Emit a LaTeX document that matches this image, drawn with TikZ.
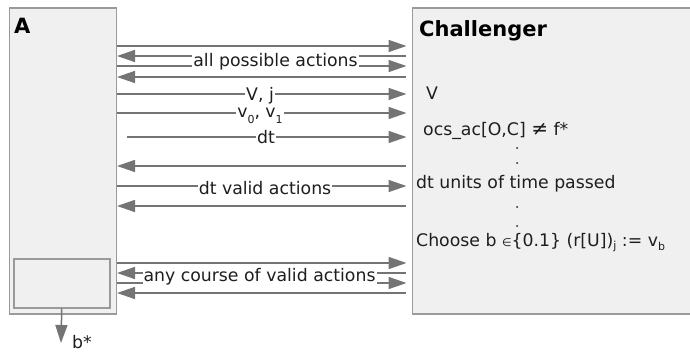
\documentclass[tikz,border=0pt]{standalone}
\usepackage{fontspec}
\setmainfont{DejaVu Sans}
\usetikzlibrary{arrows.meta}
\definecolor{boxfill}{HTML}{F0F0F0}
\definecolor{boxline}{HTML}{9A9A9A}
\definecolor{arrowgray}{HTML}{747474}
\definecolor{ink}{HTML}{1E1E1E}
% small lowered index
\newcommand\lowidx[2][5pt]{\raisebox{-#1}{\fontsize{11}{11}\selectfont #2}}
\begin{document}
\begin{tikzpicture}[x=1pt,y=-1pt,
  panel/.style={draw=boxline, line width=1.5pt, fill=boxfill, inner sep=0pt, anchor=north west},
  msg/.style={draw=arrowgray, line width=1.5pt, -{Triangle[length=18pt,width=12pt]}},
  tomsg/.style={msg, shorten >=5pt},
  frommsg/.style={msg, shorten <=6pt},
  lbl/.style={fill=white, inner sep=1pt, text=ink, font=\fontsize{17.3}{19}\selectfont, anchor=base},
  txt/.style={inner sep=0pt, text=ink, font=\fontsize{17.3}{19}\selectfont, anchor=base west},
  head/.style={inner sep=0pt, text=black, font=\fontsize{21}{23}\selectfont\bfseries, anchor=base west},
  dot/.style={circle, fill=ink, inner sep=0pt, minimum size=2pt}]

\useasboundingbox (0,0) rectangle (690,351);

% participants
\node[panel, minimum width=107pt, minimum height=306pt] (A) at (8.5,7) {};
\node[panel, minimum width=96pt, minimum height=49pt] (Ab) at (13,258) {};
\node[panel, minimum width=290pt, minimum height=306pt] (C) at (411.5,7) {};
\node[head] (An) at (14,33) {A};
\node[head] (Ch) at (419,36) {Challenger};

% all possible actions
\draw[tomsg]   (A.east |- 0,46)  -- (C.west |- 0,46);
\draw[frommsg] (C.west |- 0,56)  -- (A.east |- 0,56);
\draw[tomsg]   (A.east |- 0,66)  -- (C.west |- 0,66);
\draw[frommsg] (C.west |- 0,77)  -- (A.east |- 0,77);
\node[lbl] (l1) at (275.5,66) {all possible actions};

% V, j / v0, v1 / dt
\draw[tomsg] (A.east |- 0,94)  -- (C.west |- 0,94);
\node[lbl] (l2) at (260,100) {V, j};
\draw[tomsg] (A.east |- 0,113) -- (C.west |- 0,113);
\node[lbl] (l3) at (260,117.5) {v\lowidx[6pt]{0}, v\lowidx[6pt]{1}};
\coordinate (dts) at (127,137);
\draw[tomsg] (dts) -- (C.west |- dts);
\node[lbl] (l4) at (266,143) {dt};

% dt valid actions
\draw[frommsg] (C.west |- 0,166) -- (A.east |- 0,166);
\draw[tomsg]   (A.east |- 0,186) -- (C.west |- 0,186);
\node[lbl] (l5) at (265,194.5) {dt valid actions};
\draw[frommsg] (C.west |- 0,206) -- (A.east |- 0,206);

% any course of valid actions
\draw[tomsg]   (A.east |- 0,263) -- (C.west |- 0,263);
\draw[frommsg] (C.west |- 0,273) -- (A.east |- 0,273);
\draw[tomsg]   (A.east |- 0,283) -- (C.west |- 0,283);
\draw[frommsg] (C.west |- 0,293) -- (A.east |- 0,293);
\node[lbl] (l6) at (259.5,281) {any course of valid actions};

% output of the adversary
\coordinate (bout) at (61,343);
\draw[msg] (Ab.south) -- (bout);
\node[txt] (bs) at (72,348) {b*};

% challenger steps
\node[txt] (t1) at (426,99) {V};
\node[txt] (t2) at (423,135) {ocs\_ac[O,C] {\fontsize{20}{20}\selectfont ≠} f*};
\node[txt] (t3) at (416,188) {dt units of time passed};
\node[txt] (t4) at (416,246) {Choose b {\fontsize{11}{11}\selectfont ∈}\{0.1\} (r[U])\lowidx[3pt]{j} := v\lowidx[4pt]{b}};
\node[dot] (d1) at (517,148) {};
\node[dot] (d2) at (517,163) {};
\node[dot] (d3) at (517,207) {};
\node[dot] (d4) at (517,226) {};
\end{tikzpicture}
\end{document}
